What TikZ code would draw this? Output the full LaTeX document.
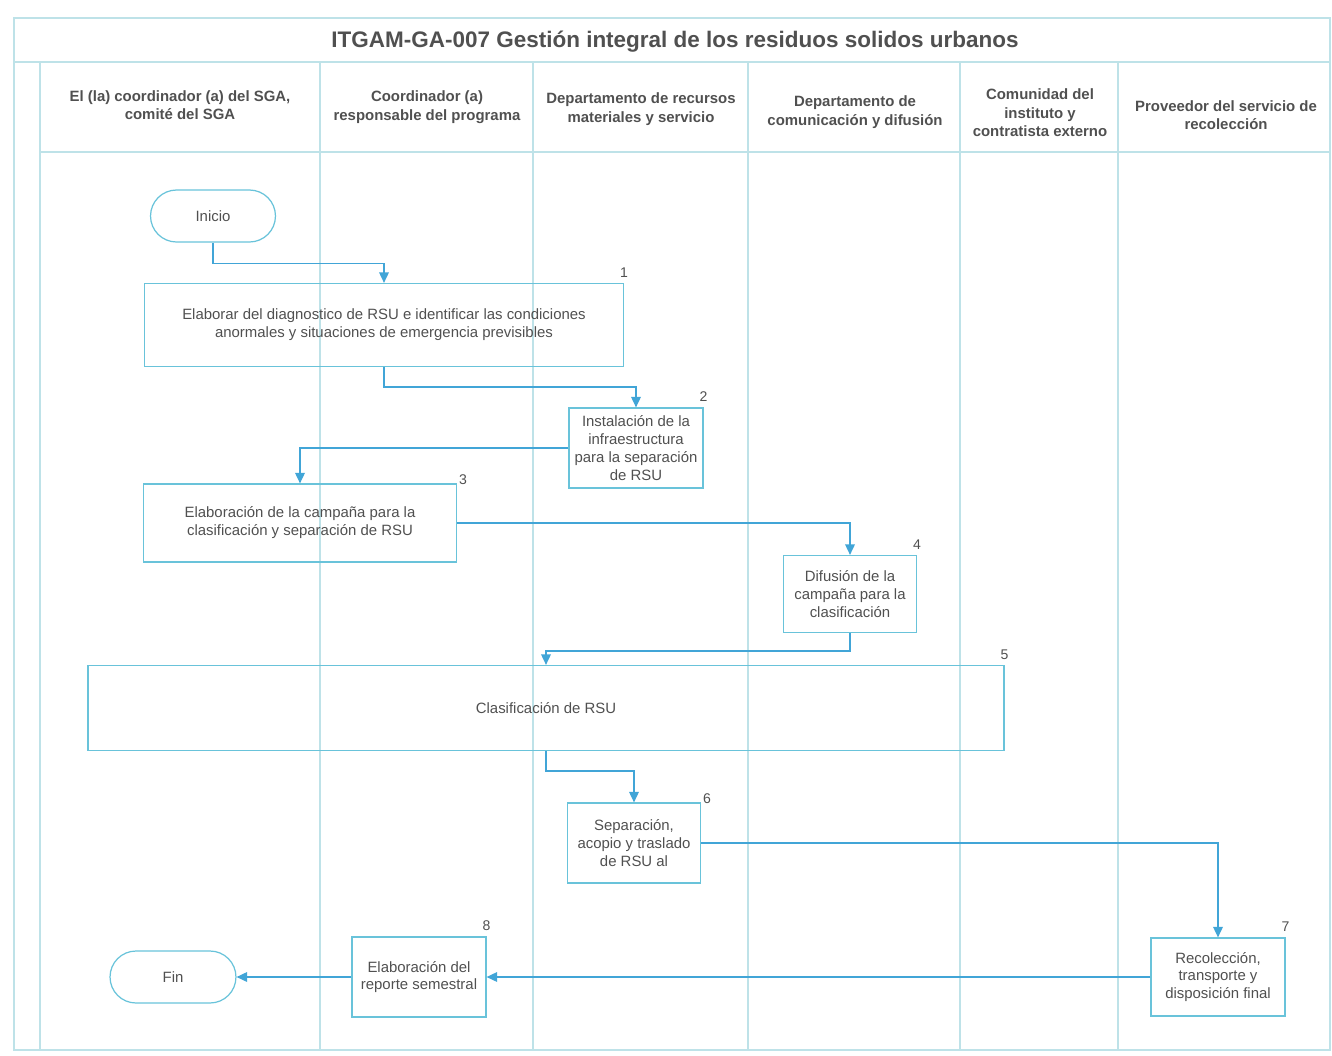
\documentclass[tikz,border=0pt]{standalone}
\usepackage{fontspec}
\setmainfont{Liberation Sans}
\usetikzlibrary{positioning, arrows.meta, shapes.misc}

\definecolor{lanecol}{RGB}{190,226,232}
\definecolor{boxcol}{RGB}{105,195,218}
\definecolor{flowcol}{RGB}{65,165,215}
\definecolor{ink}{RGB}{80,80,80}

\begin{document}
\begin{tikzpicture}[
        x=0.02cm, y=-0.02cm,
        >={Triangle[width=5.5pt,length=6pt]},
        lane/.style={draw=lanecol, line width=0.7pt},
        title/.style={font=\bfseries\fontsize{12.8}{15}\selectfont, text=ink},
        header/.style={font=\bfseries\fontsize{8.5}{10.5}\selectfont, text=ink, align=center},
        task/.style={draw=boxcol, line width=0.7pt, font=\fontsize{8.5}{10.2}\selectfont, text=ink, align=center, inner sep=2pt},
        terminal/.style={task, rounded rectangle},
        num/.style={font=\fontsize{8}{10}\selectfont, text=ink, anchor=south, inner sep=1pt, yshift=2pt},
        flow/.style={->, draw=flowcol, line width=0.8pt},
    ]
        \useasboundingbox (0,0) rectangle (1332,1055);

        % Draw the frame and the swimlanes
        \draw[lane] (14,18) rectangle (1330,1050);
        \draw[lane] (14,62) -- (1330,62);
        \draw[lane] (40,152) -- (1330,152);
        \foreach \x in {40,320,533,748,960,1118}
            \draw[lane] (\x,62) -- (\x,1050);

        \node[title] (title) at (675,42) {ITGAM-GA-007 Gestión integral de los residuos solidos urbanos};

        % Draw the lane headers
        \foreach \name / \x / \y / \txt in {
                h1/180/105/{El (la) coordinador (a) del SGA,\\comité del SGA},
                h2/427/107/{Coordinador (a)\\responsable del programa},
                h3/641/109/{Departamento de recursos\\materiales y servicio},
                h4/855/112/{Departamento de\\comunicación y difusión},
                h5/1040/113/{Comunidad del\\instituto y\\contratista externo},
                h6/1226/115/{Proveedor del servicio de\\recolección}}
            \node[header] (\name) at (\x,\y) {\txt};

        % Draw the activities
        \node[terminal, minimum width=2.64cm, minimum height=1.04cm] (inicio) at (213,216) {Inicio};
        \node[task, minimum width=9.58cm, minimum height=1.66cm, label={[num]north east:1}] (t1) at (384,325)
            {Elaborar del diagnostico de RSU e identificar las condiciones\\anormales y situaciones de emergencia previsibles};
        \node[task, minimum width=2.68cm, minimum height=1.6cm, label={[num]north east:2}] (t2) at (636,448)
            {Instalación de la\\infraestructura\\para la separación\\de RSU};
        \node[task, minimum width=6.26cm, minimum height=1.56cm, label={[num, anchor=west, yshift=0pt]north east:3}] (t3) at (300,523)
            {Elaboración de la campaña para la\\clasificación y separación de RSU};
        \node[task, minimum width=2.66cm, minimum height=1.54cm, label={[num]north east:4}] (t4) at (850,594)
            {Difusión de la\\campaña para la\\clasificación};
        \node[task, minimum width=18.32cm, minimum height=1.7cm, label={[num]north east:5}] (t5) at (546,708)
            {Clasificación de RSU};
        \node[task, minimum width=2.66cm, minimum height=1.6cm, label={[num, anchor=west, yshift=0pt]north east:6}] (t6) at (634,843)
            {Separación,\\acopio y traslado\\de RSU al};
        \node[task, minimum width=2.68cm, minimum height=1.56cm, label={[num]north east:7}] (t7) at (1218,977)
            {Recolección,\\transporte y\\disposición final};
        \node[task, minimum width=2.68cm, minimum height=1.6cm, label={[num]north east:8}] (t8) at (419,977)
            {Elaboración del\\reporte semestral};
        \node[terminal, minimum width=2.66cm, minimum height=1.04cm] (fin) at (173,977) {Fin};

        % Connect the activities
        \draw[flow] (inicio.south) -- ++(0,21) -| (t1.north);
        \draw[flow] (t1.south) -- ++(0,20) -| (t2.north);
        \draw[flow] (t2.west) -| (t3.north);
        \draw[flow] (t3.east) -| (t4.north);
        \draw[flow] (t4.south) -- ++(0,18) -| (t5.north);
        \draw[flow] (t5.south) -- ++(0,20) -| (t6.north);
        \draw[flow] (t6.east) -| (t7.north);
        \draw[flow] (t7.west) -- (t8.east);
        \draw[flow] (t8.west) -- (fin.east);
    \end{tikzpicture}
\end{document}
